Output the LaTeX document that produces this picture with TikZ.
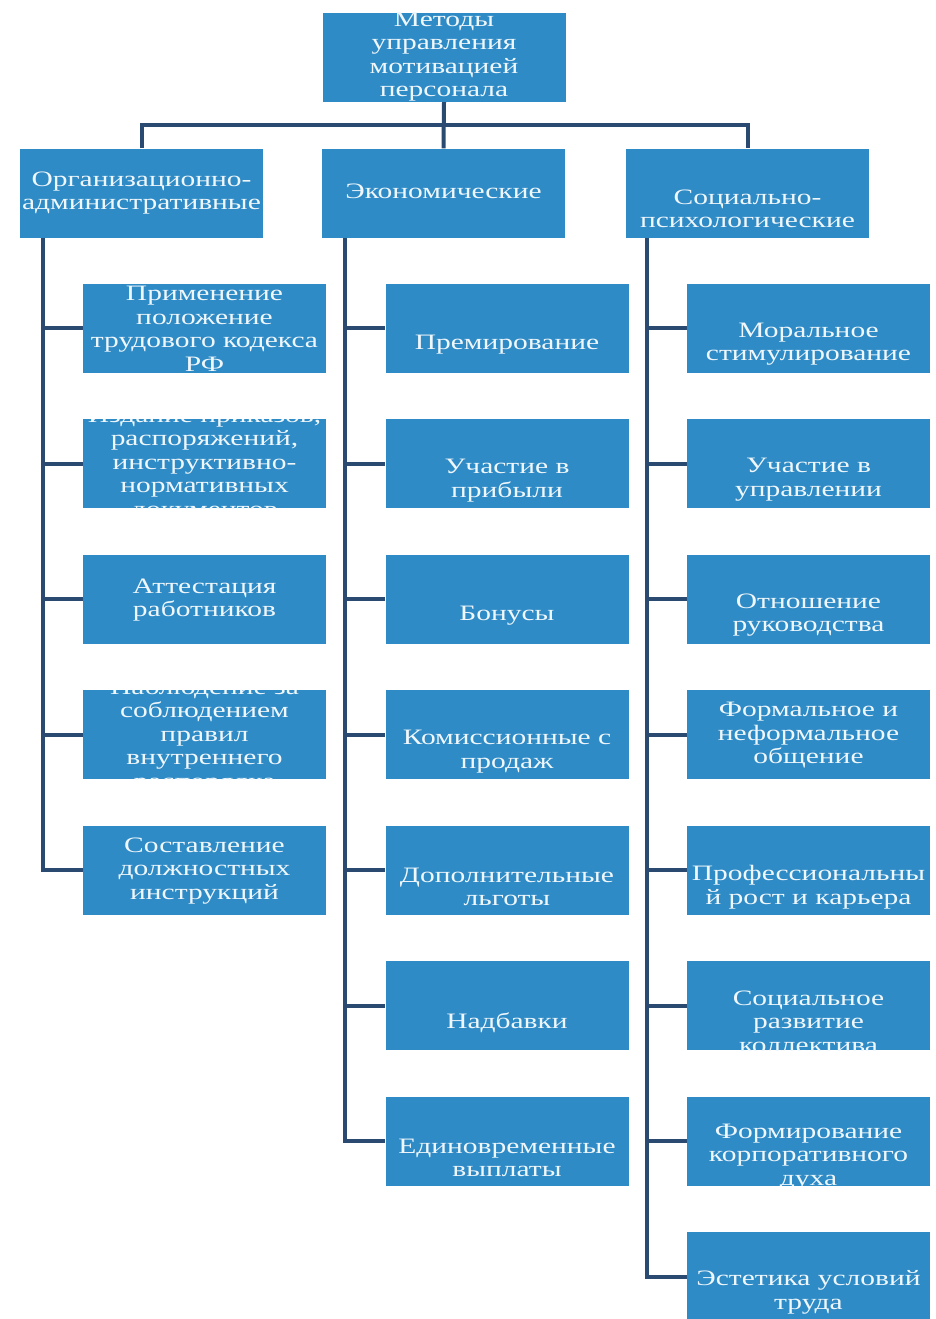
\documentclass[tikz,border=0pt]{standalone}
\usepackage{fontspec}
\setmainfont{Liberation Serif}[FakeStretch=1.34]
\definecolor{boxblue}{HTML}{2E8BC6}
\definecolor{linenavy}{HTML}{2B4A72}
\definecolor{txtwhite}{HTML}{F0F7FC}
\tikzset{
  box/.style={fill=boxblue, draw=none, minimum width=243pt, minimum height=89pt, inner sep=0pt},
  txt/.style={text=txtwhite, align=center, inner sep=0pt, font=\fontsize{22}{23.5}\selectfont},
  conn/.style={draw=linenavy, line width=4pt, line cap=butt, line join=miter}
}
\newcommand\bx[5]{%
  \node[box, path picture={\node[txt] (#1t) at ([yshift=#4]path picture bounding box.center) {#5};}] (#1) at (#2,#3) {};}
\begin{document}
\begin{tikzpicture}[x=1pt,y=1pt]
\fill[white] (0,0) rectangle (936,-1319);
\useasboundingbox (0,0) rectangle (936,-1319);
% top
\bx{top}{444}{-57.5}{1pt}{Методы\\управления\\мотивацией\\персонала}
% categories
\bx{cA}{141.5}{-193}{0pt}{Организационно-\\административные}
\bx{cB}{443.5}{-193}{2pt}{Экономические}
\bx{cC}{747.5}{-193}{-16pt}{Социально-\\психологические}
% left column
\bx{L1}{204.5}{-328}{-1pt}{Применение\\положение\\трудового кодекса\\РФ}
\bx{L2}{204.5}{-463.5}{-1pt}{Издание приказов,\\распоряжений,\\инструктивно-\\нормативных\\документов}
\bx{L3}{204.5}{-599}{-1pt}{Аттестация\\работников}
\bx{L4}{204.5}{-734.5}{-1pt}{Наблюдение за\\соблюдением\\правил\\внутреннего\\распорядка}
\bx{L5}{204.5}{-870}{-1pt}{Составление\\должностных\\инструкций}
% middle column
\bx{M1}{507}{-328}{-17pt}{Премирование}
\bx{M2}{507}{-463.5}{-17pt}{Участие в\\прибыли}
\bx{M3}{507}{-599}{-17pt}{Бонусы}
\bx{M4}{507}{-734.5}{-17pt}{Комиссионные с\\продаж}
\bx{M5}{507}{-870}{-17pt}{Дополнительные\\льготы}
\bx{M6}{507}{-1005.5}{-17pt}{Надбавки}
\bx{M7}{507}{-1141}{-17pt}{Единовременные\\выплаты}
% right column
\bx{R1}{808.5}{-328}{-16pt}{Моральное\\стимулирование}
\bx{R2}{808.5}{-463.5}{-16pt}{Участие в\\управлении}
\bx{R3}{808.5}{-599}{-16pt}{Отношение\\руководства}
\bx{R4}{808.5}{-734.5}{-1pt}{Формальное и\\неформальное\\общение}
\bx{R5}{808.5}{-870}{-17pt}{Профессиональны\\й рост и карьера}
\bx{R6}{808.5}{-1005.5}{-16pt}{Социальное\\развитие\\коллектива}
\bx{R7}{808.5}{-1141}{-16pt}{Формирование\\корпоративного\\духа}
\bx{R8}{808.5}{-1276.5}{-16pt}{Эстетика условий\\труда}
% coordinates for bus and trunks
\coordinate (bus) at (0,-125);
\coordinate (tL) at (43,0);
\coordinate (tM) at (345,0);
\coordinate (tR) at (647,0);
% top connectors
\draw[conn] (top.south) -- (cB.north);
\draw[conn] (cA.north) -- (cA.north |- bus) -- (cC.north |- bus) -- (cC.north);
% left trunk
\draw[conn] (tL |- cA.south) -- (tL |- L5.west) -- (L5.west);
\foreach \n in {L1,L2,L3,L4} \draw[conn] (tL |- \n.west) -- (\n.west);
% middle trunk
\draw[conn] (tM |- cB.south) -- (tM |- M7.west) -- (M7.west);
\foreach \n in {M1,M2,M3,M4,M5,M6} \draw[conn] (tM |- \n.west) -- (\n.west);
% right trunk
\draw[conn] (tR |- cC.south) -- (tR |- R8.west) -- (R8.west);
\foreach \n in {R1,R2,R3,R4,R5,R6,R7} \draw[conn] (tR |- \n.west) -- (\n.west);
\end{tikzpicture}
\end{document}
